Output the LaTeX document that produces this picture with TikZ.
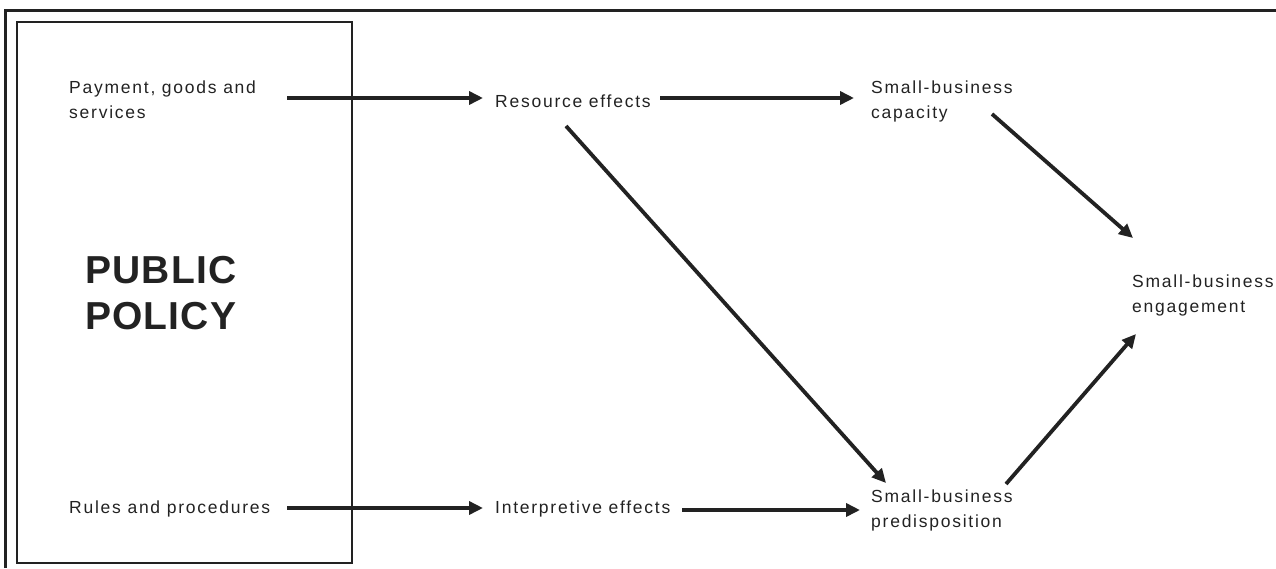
\documentclass[tikz,border=0pt]{standalone}
\usepackage{fontspec}
\usetikzlibrary{arrows.meta,calc}
\newfontfamily\labfont[LetterSpace=10]{Liberation Sans}
\newfontfamily\bigfont[LetterSpace=3]{Liberation Sans}
\definecolor{ink}{HTML}{222222}
\tikzset{
  lab/.style={anchor=base west, inner sep=0pt, align=left, text=ink,
    font=\labfont\fontsize{17.5}{24.5}\selectfont},
  big/.style={anchor=base west, inner sep=0pt, align=left, text=ink,
    font=\bigfont\bfseries\fontsize{39}{46}\selectfont},
  arr/.style={draw=ink, line width=3.8pt,
    -{Triangle[length=14pt,width=13pt]}},
  frame/.style={draw=ink, line width=3pt},
  inbox/.style={draw=ink, line width=1.3pt}
}
\begin{document}
\begin{tikzpicture}[x=1pt,y=-1pt]
\useasboundingbox (0,0) rectangle (1276,568);
\draw[frame] (5,568) -- (5,10) -- (1276,10);
\draw[inbox] (17,22) rectangle (352,563);
% base anchor of a multi-line node = baseline of its last line
\node[big] (policy) at (85,329) {PUBLIC\\POLICY};
\node[lab] (pay) at (69,118) {Payment, goods and\\services};
\node[lab] (rules) at (69,513) {Rules and procedures};
\node[lab] (res) at (495,107) {Resource effects};
\node[lab] (interp) at (495,513) {Interpretive effects};
\node[lab] (cap) at (871,118) {Small-business\\capacity};
\node[lab] (pred) at (871,527) {Small-business\\predisposition};
\node[lab] (eng) at (1132,312) {Small-business\\engagement};
\draw[arr] ($(pay.base west)+(218,-20)$) -- ($(res.base west)+(-12,-9)$);
\draw[arr] ($(res.base west)+(165,-9)$) -- ($(cap.base west)+(-17,-20)$);
\draw[arr] ($(rules.base west)+(218,-5)$) -- ($(interp.base west)+(-12,-5)$);
\draw[arr] ($(interp.base west)+(187,-3)$) -- ($(pred.base west)+(-11,-17)$);
\draw[arr] ($(res.base west)+(71,19)$) -- ($(pred.base west)+(15,-44)$);
\draw[arr] ($(cap.base west)+(121,-4)$) -- ($(eng.base west)+(1,-74)$);
\draw[arr] ($(pred.base west)+(135,-43)$) -- ($(eng.base west)+(4,22)$);
\end{tikzpicture}
\end{document}
